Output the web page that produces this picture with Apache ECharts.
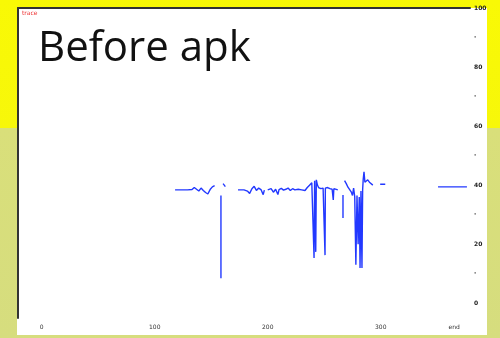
<!DOCTYPE html>
<html>
<head>
<meta charset="utf-8">
<script src="https://cdn.jsdelivr.net/npm/echarts@6/dist/echarts.min.js"></script>
<style>
  html, body { margin: 0; padding: 0; }
  #chart {
    width: 500px;
    height: 338px;
    background: linear-gradient(#f9f905 0, #f7f70a 128px, #d9df7a 128px, #d6dd7e 338px);
  }
</style>
</head>
<body>
<div id="chart"></div>
<script>
// trace values (x in sample units, y in signal units), null = gap
const traceX = [
  139, 150, 154, 156, 158, 160, 162, 164, 166, 168, 170, 172, 174, null,
  179.6, 179.6, null,
  181.5, 183.5, null,
  194.7, 200, 203, 205, 207, 209, 211, 213, 215, 217, 218, null,
  221, 224, 226, 228, 230, 231, 233, 235, 237, 239, 241, 243, 245, 248, 251, 254, 256, 258, 260, 261,
  262, 262.5, 263.5, 264, 265, 266, 268, 270, 271.7, 272, 274, 276, 278, 279, 279.5, 281, 283, null,
  287.6, 287.6, null,
  289, 290.5, 292, 293.5, 295, 296, 297, 298, 299, 300, 301, 302, 302.7, 303.5, 304.4, 305, 305.5,
  306.2, 307, 308, 309.5, 311, 312.5, 314, null,
  320.5, 325, null,
  371.7, 397.3
];
const traceY = [
  38.4, 38.4, 38.5, 39.2, 38.6, 38.0, 39.0, 38.2, 37.5, 37.0, 38.5, 39.4, 39.8, null,
  36.5, 8.5, null,
  40.5, 39.5, null,
  38.4, 38.4, 38.0, 37.2, 38.8, 39.6, 38.2, 39.0, 38.5, 36.8, 38.3, null,
  38.4, 38.8, 37.6, 38.6, 36.8, 38.5, 38.9, 38.3, 38.6, 39.0, 38.2, 38.8, 38.4, 38.6, 38.4, 38.2, 39.2, 40.0, 40.8, 40.2,
  15.3, 41.5, 17.4, 41.8, 40.0, 39.2, 38.8, 39.0, 16.3, 39.0, 39.2, 38.8, 38.6, 35.0, 38.8, 38.6, 38.4, null,
  36.7, 28.9, null,
  41.5, 40.5, 39.3, 38.7, 37.6, 36.5, 39.0, 36.0, 13.0, 36.5, 20.0, 36.0, 11.9, 38.0, 11.9, 38.5, 42.0,
  44.5, 41.0, 40.8, 41.8, 41.0, 40.8, 40.0, null,
  40.3, 40.3, null,
  39.4, 39.4
];
const xTickValues = [21, 121, 221, 321, 386];
const xTickLabels = ['0', '100', '200', '300', 'end'];
const yTickValues = [0, 10, 20, 30, 40, 50, 60, 70, 80, 90, 100];
const yTickLabels = ['0', '·', '20', '·', '40', '·', '60', '·', '80', '·', '100'];

const chart = echarts.init(document.getElementById('chart'), null, { renderer: 'canvas' });

const seriesData = traceX.map((x, i) => (x === null ? [null, null] : [x, traceY[i]]));

chart.setOption({
  animation: false,
  backgroundColor: 'transparent',
  title: {
    text: 'Before apk',
    left: 33,
    top: 23,
    textStyle: { fontFamily: 'Open Sans', fontSize: 42, fontWeight: 'normal', color: '#111' }
  },
  graphic: [
    {
      type: 'rect', z: -10, silent: true,
      shape: { x: 17, y: 8, width: 470, height: 327 },
      style: { fill: '#fff' }
    },
    {
      type: 'text', left: 22, top: 10, z: 5,
      style: { text: 'trace', fill: '#e33', fontSize: 6, fontFamily: 'DejaVu Sans' }
    }
  ],
  grid: { left: 18, right: 30, top: 8, bottom: 20 },
  xAxis: [
    {
      type: 'value', min: 0, max: 400,
      axisLine: { show: false },
      axisTick: { show: false },
      splitLine: { show: false },
      axisLabel: {
        customValues: xTickValues,
        formatter: (v) => xTickLabels[xTickValues.indexOf(v)] ?? '',
        fontSize: 6, color: '#333', margin: 6, fontFamily: 'DejaVu Sans'
      }
    },
    {
      type: 'value', position: 'top', min: 0, max: 400,
      axisLine: { show: true, onZero: false, lineStyle: { color: '#333', width: 2 } },
      axisTick: { show: false }, axisLabel: { show: false }, splitLine: { show: false }
    }
  ],
  yAxis: [
    {
      type: 'value', position: 'right', min: -5, max: 100,
      axisLine: { show: false },
      axisTick: { show: false },
      splitLine: { show: false },
      axisLabel: {
        customValues: yTickValues,
        formatter: (v) => yTickLabels[yTickValues.indexOf(v)] ?? '',
        fontSize: 6, color: '#222', fontWeight: 'bold', margin: 4, fontFamily: 'DejaVu Sans'
      }
    },
    {
      type: 'value', position: 'left', min: -5, max: 100,
      axisLine: { show: true, onZero: false, lineStyle: { color: '#333', width: 2 } },
      axisTick: { show: false }, axisLabel: { show: false }, splitLine: { show: false }
    }
  ],
  series: [
    {
      type: 'line',
      data: seriesData,
      showSymbol: false,
      connectNulls: false,
      lineStyle: { color: '#2238ff', width: 1.4 },
      itemStyle: { color: '#2238ff' }
    }
  ]
});
</script>
</body>
</html>
